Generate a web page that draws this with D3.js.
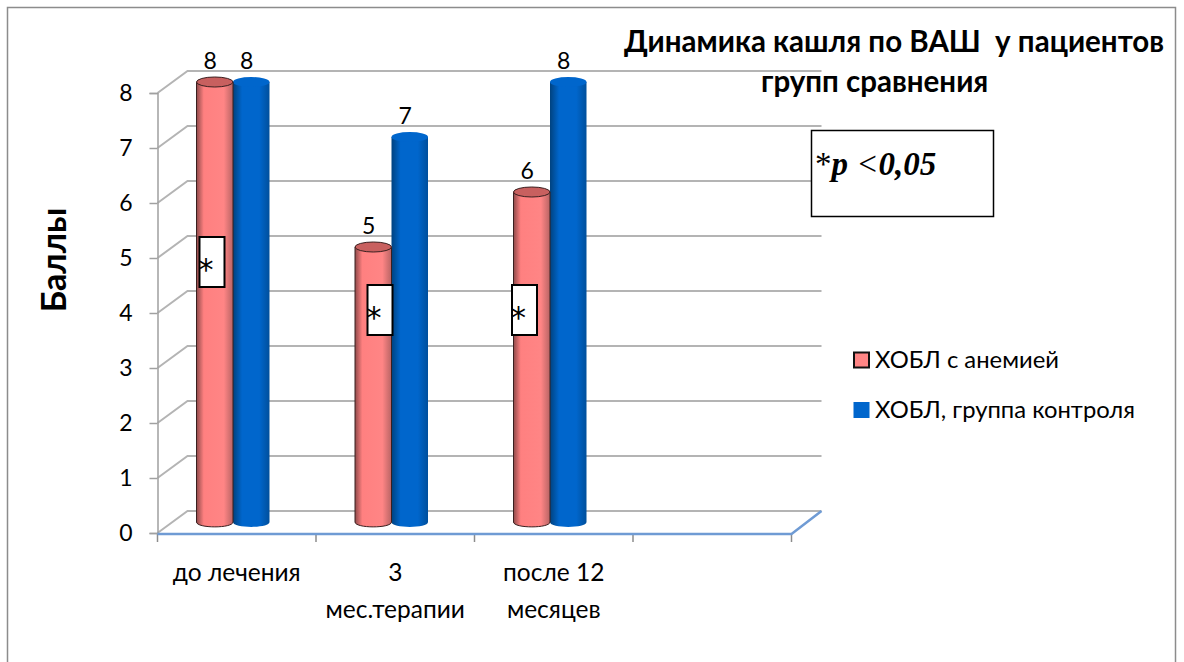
<!doctype html>
<meta charset='utf-8'>
<style>
  html, body { margin: 0; background: #fff; }
  svg { display: block; }
  text { font-family: Lato, 'Open Sans', sans-serif; fill: #000; }
</style>
<body>
<script src='https://cdn.jsdelivr.net/npm/d3@7'></script>
<script>

// values
var categories = ['до лечения', '3 мес.терапии', 'после 12 месяцев', ''];
var categoryLines = [['до лечения'], ['3', 'мес.терапии'], ['после 12', 'месяцев'], []];
var seriesNames = ['ХОБЛ с анемией', 'ХОБЛ, группа контроля'];
var anemia = [8, 5, 6];
var control = [8, 7, 8];
var yTicks = [0, 1, 2, 3, 4, 5, 6, 7, 8];

var width = 1184,
    height = 662,
    depthX = 30,   // how far the back wall sits from the front axis
    depthY = 22,
    barW = 36.5,
    barInset = 39,
    ry = 5;

var x = d3.scaleBand().domain(categories).range([157.5, 791.5]);
var y = d3.scaleLinear().domain([0, 8]).range([533, 93]);

var svg = d3.select('body').append('svg')
    .attr('width', width)
    .attr('height', height);

// outer frame runs past the bottom edge
svg.append('rect')
    .attr('x', 7.5).attr('y', 7.5)
    .attr('width', 1168).attr('height', 680)
    .attr('fill', '#fff')
    .attr('stroke', '#8c8c8c')
    .attr('stroke-width', 1.5);

var defs = svg.append('defs');
function cylinderGradient(id, stops) {
  var g = defs.append('linearGradient').attr('id', id);
  stops.forEach(function(s) {
    g.append('stop').attr('offset', s[0]).attr('stop-color', s[1]);
  });
}
cylinderGradient('redCyl', [[0, '#8f4a4a'], [0.2, '#ff8080'], [0.75, '#ff8585'], [1, '#b86464']]);
cylinderGradient('blueCyl', [[0, '#00427f'], [0.25, '#0066cc'], [0.72, '#0066cc'], [1, '#004f9c']]);

// walls and gridlines
var grid = svg.append('g')
    .attr('fill', 'none')
    .attr('stroke', '#b4b4b4')
    .attr('stroke-width', 2);

grid.selectAll('path')
    .data(yTicks)
    .enter().append('path')
    .attr('d', function(d) {
      var p = d3.path();
      p.moveTo(x.range()[0], y(d));
      p.lineTo(x.range()[0] + depthX, y(d) - depthY);
      p.lineTo(x.range()[1] + depthX, y(d) - depthY);
      return p.toString();
    });

// value axis, labels drawn by d3.axisLeft
var yAxis = svg.append('g')
    .attr('transform', 'translate(157.5,0)')
    .call(d3.axisLeft(y).tickValues(yTicks).tickSize(8).tickPadding(17));
yAxis.select('.domain').attr('stroke', '#a0a0a0').attr('stroke-width', 1.5);
yAxis.selectAll('.tick line').attr('stroke', '#a0a0a0').attr('stroke-width', 1.5);
yAxis.selectAll('text').style('font-size', '23px').attr('font-family', null);

// category axis with wrapped labels
var xTicks = x.domain().map(function(d) { return x(d); }).concat(x.range()[1]);
svg.append('g').selectAll('line')
    .data(xTicks)
    .enter().append('line')
    .attr('x1', function(d) { return d; })
    .attr('x2', function(d) { return d; })
    .attr('y1', 534)
    .attr('y2', 542)
    .attr('stroke', '#8c8c8c')
    .attr('stroke-width', 1.5);

var floorEdge = d3.path();
floorEdge.moveTo(x.range()[0], y(0) + 1);
floorEdge.lineTo(x.range()[1], y(0) + 1);
floorEdge.lineTo(x.range()[1] + depthX, y(0) - depthY);
svg.append('path')
    .attr('d', floorEdge.toString())
    .attr('fill', 'none')
    .attr('stroke', '#6f9bd4')
    .attr('stroke-width', 2.5);

var catLabels = svg.append('g').attr('text-anchor', 'middle').style('font-size', '24.5px');
categoryLines.forEach(function(lines, i) {
  lines.forEach(function(line, j) {
    catLabels.append('text')
        .attr('x', x(categories[i]) + x.bandwidth() / 2)
        .attr('y', 581 + j * 37)
        .text(line);
  });
});

// cylinders: the top sits above the front axis by the bar's depth offset
var barY = function(v) { return y(v) - 11; };

function cylinders(values, offset, gradient, top, stroke) {
  var g = svg.append('g');
  values.forEach(function(v, i) {
    var left = x(categories[i]) + barInset + offset;
    var cx = left + barW / 2;
    var bodyPath = d3.path();
    bodyPath.moveTo(left, barY(v));
    bodyPath.lineTo(left, barY(0));
    bodyPath.bezierCurveTo(left, barY(0) + ry * 1.3, left + barW, barY(0) + ry * 1.3, left + barW, barY(0));
    bodyPath.lineTo(left + barW, barY(v));
    bodyPath.closePath();
    g.append('path')
        .attr('d', bodyPath.toString())
        .attr('fill', 'url(#' + gradient + ')')
        .attr('stroke', stroke)
        .attr('stroke-width', stroke === 'none' ? 0 : 1);
    g.append('ellipse')
        .attr('cx', cx)
        .attr('cy', barY(v))
        .attr('rx', barW / 2)
        .attr('ry', ry)
        .attr('fill', top)
        .attr('stroke', stroke)
        .attr('stroke-width', stroke === 'none' ? 0 : 1);
  });
}

cylinders(control, barW, 'blueCyl', '#0066cc', 'none');
cylinders(anemia, 0, 'redCyl', '#c8605f', '#3a2020');

// value labels
var valueLabels = svg.append('g').attr('text-anchor', 'middle').style('font-size', '23px');
[anemia, control].forEach(function(values, s) {
  values.forEach(function(v, i) {
    valueLabels.append('text')
        .attr('x', x(categories[i]) + barInset + s * barW + barW / 2 - 4.5)
        .attr('y', barY(v) - 13)
        .text(v);
  });
});

// significance markers on the first series
var markers = [[199.5, 237], [367.5, 285], [512, 285]];
markers.forEach(function(m) {
  svg.append('rect')
      .attr('x', m[0]).attr('y', m[1])
      .attr('width', 25).attr('height', 50)
      .attr('fill', '#fff')
      .attr('stroke', '#000')
      .attr('stroke-width', 2);
  svg.append('text')
      .attr('x', m[0] + 6.5).attr('y', m[1] + 43)
      .attr('text-anchor', 'middle')
      .style('font-family', "'DejaVu Sans', sans-serif")
      .style('font-size', '30px')
      .text('*');
});

// p-value note
svg.append('rect')
    .attr('x', 811.5).attr('y', 130.5)
    .attr('width', 182).attr('height', 86)
    .attr('fill', '#fff')
    .attr('stroke', '#000')
    .attr('stroke-width', 1.5);
var note = svg.append('text')
    .attr('x', 815).attr('y', 175)
    .style('font-family', "'Liberation Serif', serif")
    .style('font-size', '33px');
note.append('tspan').text('*');
note.append('tspan').style('font-weight', 'bold').style('font-style', 'italic').text('p ');
note.append('tspan').style('font-style', 'italic').text('<');
note.append('tspan').style('font-weight', 'bold').style('font-style', 'italic').text('0,05');

// title
var title = svg.append('g').style('font-weight', 'bold').style('font-size', '29.5px');
title.append('text').attr('x', 624).attr('y', 52).attr('xml:space', 'preserve').text('Динамика кашля по ВАШ  у пациентов');
title.append('text').attr('x', 761).attr('y', 92).text('групп сравнения');

// axis title
svg.append('text')
    .attr('transform', 'translate(66,260) rotate(-90)')
    .attr('text-anchor', 'middle')
    .style('font-weight', 'bold')
    .style('font-size', '34px')
    .text('Баллы');

// legend
var legendRows = [
  {name: seriesNames[0], y: 360, fill: '#ff8585', stroke: '#111', size: 15},
  {name: seriesNames[1], y: 410, fill: '#0066cc', stroke: 'none', size: 16}
];
var legend = svg.append('g').selectAll('g')
    .data(legendRows)
    .enter().append('g');
legend.append('rect')
    .attr('x', function(d) { return 861.5 - d.size / 2; })
    .attr('y', function(d) { return d.y - d.size / 2; })
    .attr('width', function(d) { return d.size; })
    .attr('height', function(d) { return d.size; })
    .attr('fill', function(d) { return d.fill; })
    .attr('stroke', function(d) { return d.stroke; })
    .attr('stroke-width', 2);
legend.append('text')
    .attr('x', 875)
    .attr('y', function(d) { return d.y + 8; })
    .style('font-size', '23.8px')
    .text(function(d) { return d.name; });

</script>
</body>
